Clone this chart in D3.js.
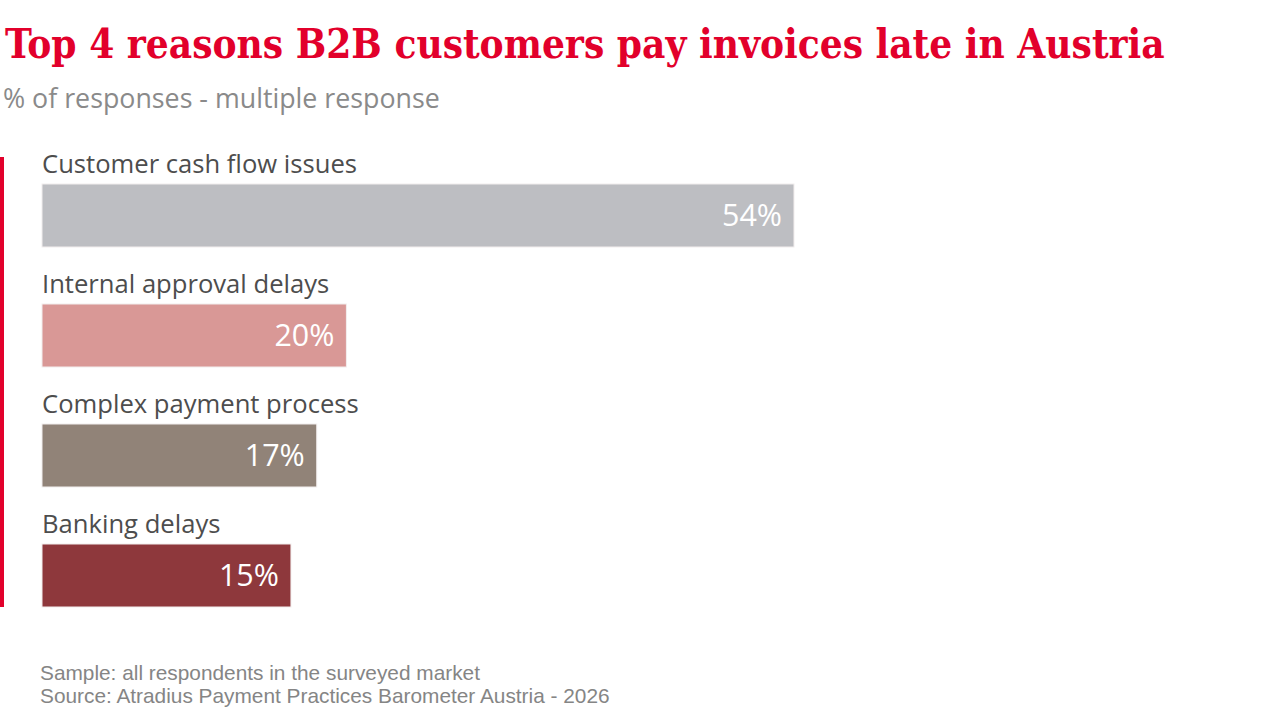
<!DOCTYPE html>
<html>
<head>
<meta charset="utf-8">
<script src="https://cdn.jsdelivr.net/npm/d3@7/dist/d3.min.js"></script>
<style>
  html, body { margin: 0; padding: 0; background: #fff; }
  svg { display: block; }
</style>
</head>
<body>
<svg id="chart" width="1280" height="720"></svg>
<script>
// ---- data ----
const title = "Top 4 reasons B2B customers pay invoices late in Austria";
const subtitle = "% of responses - multiple response";
const categories = ["Customer cash flow issues", "Internal approval delays", "Complex payment process", "Banking delays"];
const values = [54, 19.3, 17, 15];
const valueLabels = ["54%", "20%", "17%", "15%"];
const colors = ["#BDBEC2", "#D99896", "#918378", "#8E383C"];
const footnotes = ["Sample: all respondents in the surveyed market", "Source: Atradius Payment Practices Barometer Austria - 2026"];

const svg = d3.select("#chart");
const sans = "'Open Sans', 'Noto Sans', sans-serif";

function fitText(sel, targetWidth, startSize) {
  sel.style("font-size", startSize + "px");
  const w = sel.node().getComputedTextLength();
  sel.style("font-size", (startSize * targetWidth / w) + "px");
}

// title
const t = svg.append("text").attr("x", 5).attr("y", 58)
  .attr("fill", "#E2002B")
  .style("font-family", "'DejaVu Serif Condensed', 'DejaVu Serif', serif").style("font-weight", "bold")
  .text(title);
fitText(t, 1160, 40);

const st = svg.append("text").attr("x", 3).attr("y", 108)
  .attr("fill", "#8a8a8a")
  .style("font-family", sans)
  .text(subtitle);
fitText(st, 437, 26);

// scales
const x = d3.scaleLinear().domain([-4.3, 54]).range([42, 794]);
const y = d3.scaleBand().domain(categories).range([124, 604]).paddingInner(0).paddingOuter(0);
const barOffset = 60, barH = 63;

// left accent line
svg.append("rect").attr("x", 0).attr("y", 157).attr("width", 4).attr("height", 450).attr("fill", "#E2002B");

const g = svg.append("g");
const rows = g.selectAll("g.row").data(categories).join("g").attr("class", "row");

rows.append("rect")
  .attr("x", x(-4.3))
  .attr("y", d => y(d) + barOffset)
  .attr("width", (d, i) => x(values[i]) - x(-4.3))
  .attr("height", barH)
  .attr("fill", (d, i) => colors[i])
  .attr("stroke", "#f2eeee").attr("stroke-width", 1);

const catLabels = rows.append("text")
  .attr("x", 42)
  .attr("y", d => y(d) + 49)
  .attr("fill", "#4d4d4d")
  .style("font-family", sans)
  .text(d => d);
fitText(d3.select(catLabels.nodes()[0]), 315, 26);
const catSize = d3.select(catLabels.nodes()[0]).style("font-size");
catLabels.style("font-size", catSize);

const valLabels = rows.append("text")
  .attr("x", (d, i) => x(values[i]) - 12)
  .attr("y", d => y(d) + barOffset + 42)
  .attr("text-anchor", "end")
  .attr("fill", "#ffffff")
  .style("font-family", sans)
  .text((d, i) => valueLabels[i]);
fitText(d3.select(valLabels.nodes()[0]), 60, 28);
valLabels.style("font-size", d3.select(valLabels.nodes()[0]).style("font-size"));

// footnotes
const fn = svg.selectAll("text.fn").data(footnotes).join("text").attr("class", "fn")
  .attr("x", 40).attr("y", (d, i) => 680 + i * 23)
  .attr("fill", "#858585")
  .style("font-family", "'Liberation Sans', Arial, sans-serif")
  .text(d => d);
fitText(d3.select(fn.nodes()[0]), 440, 20);
fn.style("font-size", d3.select(fn.nodes()[0]).style("font-size"));
</script>
</body>
</html>
